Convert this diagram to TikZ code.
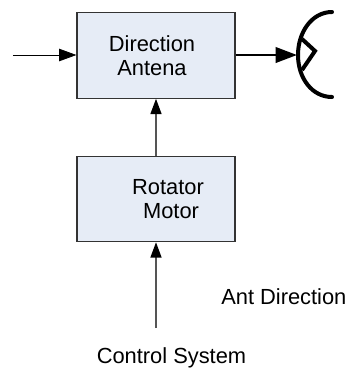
\documentclass[tikz,border=0pt]{standalone}
\usepackage{fontspec}
\setmainfont{Liberation Sans}
\usetikzlibrary{arrows.meta,positioning}

\definecolor{boxfill}{HTML}{E6ECF6}
\definecolor{boxline}{HTML}{333333}
\definecolor{feedline}{HTML}{555555}

\tikzset{
  unitbox/.style={draw=boxline, fill=boxfill, line width=.9pt, minimum width=118.5pt,
    minimum height=64pt, inner sep=0pt, align=center, font=\fontsize{16.4}{18}\selectfont},
  caption/.style={inner sep=0pt, font=\fontsize{16.4}{18}\selectfont},
  arrowhead/.style={-{Triangle[length=#1,width=.72*#1,color=black]}}
}

\begin{document}
\begin{tikzpicture}[x=.75pt,y=-.75pt]

      % Definitions
      \pgfmathsetmacro{\c}{156}
      \useasboundingbox (0,0) rectangle (345,369);

      % Blocks
      \node[unitbox] (antena) at (\c,55.5) {Direction\hspace*{6pt}\\Antena\hspace*{6pt}};
      \node[unitbox] (motor) at (\c,199) {\hspace*{18pt}Rotator\\\hspace*{22.5pt}Motor};

      % free ends
      \coordinate (input) at (13,55);
      \coordinate (dish) at (297,55);
      \coordinate (control) at (\c,328);

      % labels
      \node[caption,anchor=base west] (direction) at (221,304) {Ant Direction};
      \node[caption,anchor=base] (system) at (171.5,363.5) {Control System};

      % connectors
      \draw[arrowhead=13pt, line width=.6pt] (input) -- (antena.west |- input);
      \draw[arrowhead=16pt, line width=2pt] (antena.east |- dish) -- (dish);
      \draw[arrowhead=11.5pt, line width=1pt, draw=feedline] (motor) -- (antena);
      \draw[arrowhead=11.5pt, line width=1pt, draw=feedline] (control) -- (motor);

      % dish
      \begin{scope}[line width=3pt, line cap=round]
        \draw (332,12) .. controls (312,12) and (298,32) .. (298,55)
          .. controls (298,78) and (312,97) .. (332,97);
        \draw[line cap=butt] (302,39) -- (315,51) -- (302,70);
      \end{scope}
\end{tikzpicture}
\end{document}
